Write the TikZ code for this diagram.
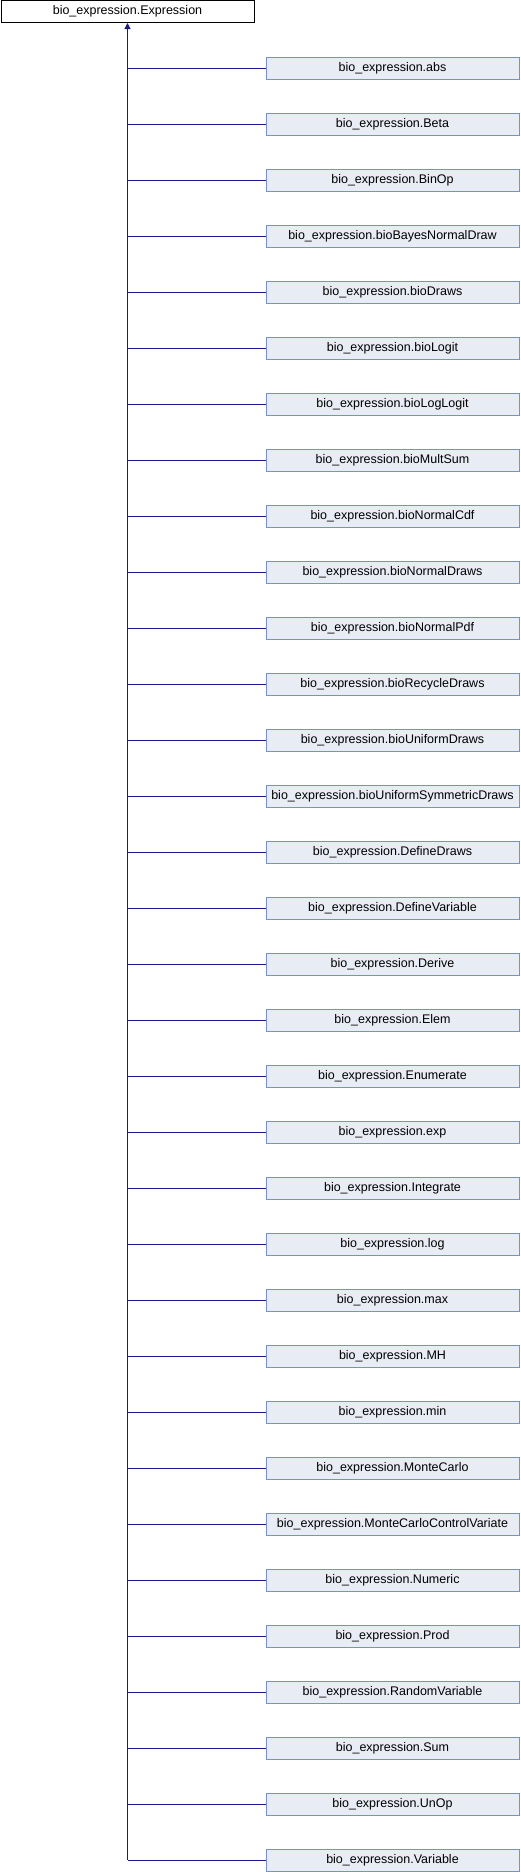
\documentclass[tikz,border=0pt]{standalone}
\usepackage{fontspec}
\setmainfont{Liberation Sans}
\usetikzlibrary{arrows.meta}
\definecolor{edgeblue}{RGB}{25,25,140}
\definecolor{boxfill}{RGB}{232,236,245}
\definecolor{boxline}{RGB}{120,145,205}
\tikzset{
  basebox/.style={draw=black, fill=white, line width=1pt, minimum width=253pt, minimum height=22pt, inner sep=0pt, font=\fontsize{12.5}{14}\selectfont},
  childbox/.style={draw=boxline, fill=boxfill, line width=1pt, minimum width=253pt, minimum height=22pt, inner sep=0pt, font=\fontsize{12.5}{14}\selectfont},
  edge/.style={draw=edgeblue, line width=1pt}
}
\begin{document}
\begin{tikzpicture}[x=1pt,y=-1pt]
\useasboundingbox (0,0) rectangle (520,1872);
\node[basebox] (base) at (127.5,11.5) {bio\_expression.Expression};
\foreach \n [count=\i] in {abs,Beta,BinOp,bioBayesNormalDraw,bioDraws,bioLogit,bioLogLogit,bioMultSum,bioNormalCdf,bioNormalDraws,bioNormalPdf,bioRecycleDraws,bioUniformDraws,bioUniformSymmetricDraws,DefineDraws,DefineVariable,Derive,Elem,Enumerate,exp,Integrate,log,max,MH,min,MonteCarlo,MonteCarloControlVariate,Numeric,Prod,RandomVariable,Sum,UnOp,Variable}{
  \node[childbox] (c\i) at (392.5,{68+56*(\i-1)}) {bio\_expression.\n};
  \draw[edge] (c\i.west) -- (c\i.west -| base.south);
}
\draw[edge, -{Triangle[length=6pt,width=6pt]}] (c33.west -| base.south) -- (base.south);
\end{tikzpicture}
\end{document}
